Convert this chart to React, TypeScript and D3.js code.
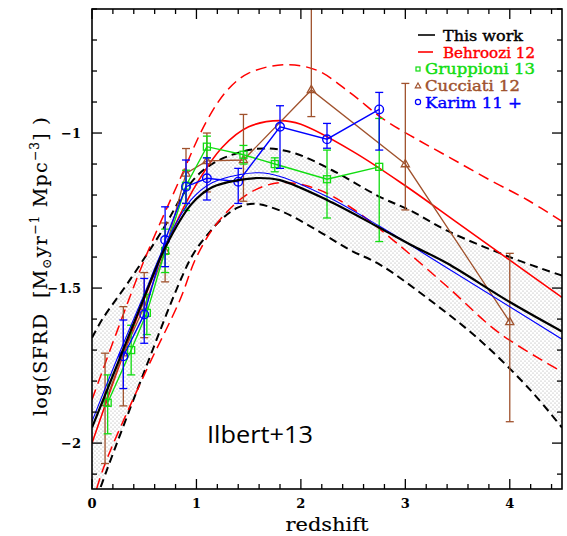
import React from "react";
import * as d3 from "d3";

// ---------- axis ticks ----------
const xMajorTicks = [0, 1, 2, 3, 4];
const xTickLabels = ["0", "1", "2", "3", "4"];
const yMajorTicks = [-2, -1.5, -1];
const yTickLabels = ["\u22122", "\u22121.5", "\u22121"];

// ---------- This work (black solid) ----------
const thisWorkZ = [0, 0.25, 0.5, 0.7, 0.95, 1.15, 1.4, 1.6, 1.8, 2.25, 2.75, 3.05, 3.4, 4.0, 4.5];
const thisWorkY = [-1.95, -1.74, -1.53, -1.37, -1.23, -1.175, -1.152, -1.145, -1.152, -1.216, -1.305, -1.36, -1.42, -1.545, -1.64];

// band edges (black dashed)
const bandUpZ = [0, 0.1, 0.35, 0.68, 0.85, 1.0, 1.2, 1.5, 1.7, 1.95, 2.3, 2.75, 3.05, 3.4, 4.0, 4.5];
const bandUpY = [-1.66, -1.6, -1.48, -1.31, -1.21, -1.14, -1.09, -1.055, -1.05, -1.066, -1.12, -1.205, -1.25, -1.315, -1.4, -1.46];
const bandLoZ = [0, 0.15, 0.5, 0.84, 0.97, 1.1, 1.25, 1.4, 1.55, 1.8, 2.15, 2.47, 2.76, 3.24, 3.72, 4.2, 4.5];
const bandLoY = [-2.22, -2.08, -1.77, -1.48, -1.39, -1.33, -1.275, -1.24, -1.228, -1.25, -1.313, -1.377, -1.425, -1.54, -1.67, -1.83, -1.95];

// ---------- Behroozi 12 (red) ----------
const behrooziZ = [0, 0.25, 0.5, 0.75, 1.0, 1.25, 1.5, 1.8, 2.0, 2.5, 3.0, 3.5, 4.0, 4.5];
const behrooziY = [-2.0, -1.76, -1.535, -1.33, -1.165, -1.045, -0.98, -0.96, -0.972, -1.06, -1.17, -1.29, -1.41, -1.53];
const behrUpZ = [0, 0.25, 0.5, 0.84, 1.1, 1.3, 1.5, 1.83, 2.15, 2.47, 2.79, 3.11, 3.43, 3.8, 4.17, 4.5];
const behrUpY = [-1.86, -1.63, -1.41, -1.15, -0.96, -0.86, -0.807, -0.78, -0.797, -0.87, -0.955, -1.02, -1.08, -1.15, -1.216, -1.285];
const behrLoZ = [0, 0.11, 0.5, 0.84, 1.0, 1.2, 1.5, 1.8, 2.15, 2.5, 2.9, 3.4, 3.9, 4.5];
const behrLoY = [-2.2, -2.08, -1.78, -1.54, -1.4, -1.29, -1.195, -1.16, -1.18, -1.245, -1.35, -1.495, -1.645, -1.77];

// ---------- Karim 11 (blue) ----------
const karimFitZ = [0, 0.25, 0.5, 0.7, 0.95, 1.15, 1.4, 1.6, 1.8, 2.25, 2.75, 3.4, 4.0, 4.5];
const karimFitY = [-1.93, -1.72, -1.52, -1.36, -1.215, -1.16, -1.135, -1.128, -1.14, -1.205, -1.3, -1.435, -1.56, -1.665];
const karimZ = [0.3, 0.5, 0.7, 0.9, 1.1, 1.4, 1.8, 2.25, 2.75];
const karimY = [-1.72, -1.585, -1.345, -1.173, -1.146, -1.157, -0.98, -1.02, -0.924];
const karimLo = [-1.824, -1.678, -1.431, -1.227, -1.216, -1.227, -1.114, -1.049, -1.055];
const karimHi = [-1.603, -1.469, -1.238, -1.087, -1.08, -1.114, -0.912, -0.969, -0.869];

// ---------- Gruppioni 13 (green) ----------
const gruppZ = [0.15, 0.375, 0.525, 0.7, 0.9, 1.1, 1.45, 1.75, 2.25, 2.75];
const gruppY = [-1.87, -1.7, -1.58, -1.38, -1.17, -1.044, -1.07, -1.1, -1.149, -1.109];
const gruppLo = [-1.97, -1.78, -1.65, -1.45, -1.25, -1.08, -1.1, -1.125, -1.274, -1.35];
const gruppHi = [-1.78, -1.62, -1.52, -1.31, -1.12, -1.01, -1.04, -1.08, -1.055, -0.953];

// ---------- Cucciati 12 (brown) ----------
const cuccZ = [0.125, 0.3, 0.5, 0.7, 0.9, 1.1, 1.45, 2.1, 3.0, 4.0];
const cuccY = [-1.87, -1.71, -1.56, -1.38, -1.13, -1.09, -1.087, -0.861, -1.1, -1.609];
const cuccLo = [-2.066, -1.88, -1.66, -1.48, -1.227, -1.19, -1.22, -0.947, -1.248, -1.931];
const cuccHi = [-1.71, -1.56, -1.45, -1.29, -1.05, -1.0, -0.94, -0.5, -0.84, -1.388];

// ---------- legend ----------
const legendLabels = ["This work", "Behroozi 12", "Gruppioni 13", "Cucciati 12", "Karim 11 +"];

const RED = "#ff0000";
const GREEN = "#11dd11";
const BROWN = "#a0522d";
const BLUE = "#0000ff";
const SERIF = "'DejaVu Serif', serif";

export default function App() {
  const W = 567, H = 536;
  const L = 92, R = 562, T = 9, B = 489;
  const x = d3.scaleLinear().domain([0, 4.5]).range([L, R]);
  const y = d3.scaleLinear().domain([-2.148, -0.6]).range([B, T]);

  const zip = (zs: number[], ys: number[]) => zs.map((z, i) => [z, ys[i]] as [number, number]);
  const smooth = d3.line<[number, number]>().x(d => x(d[0])).y(d => y(d[1])).curve(d3.curveCatmullRom.alpha(0.5));
  const straight = d3.line<[number, number]>().x(d => x(d[0])).y(d => y(d[1]));

  const upPts = zip(bandUpZ, bandUpY);
  const loPts = zip(bandLoZ, bandLoY).reverse();
  const bandPath = (smooth(upPts) || "") + (smooth(loPts) || "").replace(/^M/, "L") + "Z";

  // ticks
  const xMinor = d3.range(0, 46, 2).map(v => v / 10).filter(v => v <= 4.5);
  const yMinor = d3.range(-21, -5, 1).map(v => v / 10);
  const isXMajor = (v: number) => Math.abs(v - Math.round(v)) < 1e-6;
  const isYMajor = (v: number) => Math.abs(v * 2 - Math.round(v * 2)) < 1e-6;

  const errorBars = (zs: number[], lo: number[], hi: number[], color: string) =>
    zs.map((z, i) => (
      <g key={"e" + color + i} stroke={color} strokeWidth={1.3}>
        <line x1={x(z)} x2={x(z)} y1={y(lo[i])} y2={y(hi[i])} />
        <line x1={x(z) - 4} x2={x(z) + 4} y1={y(lo[i])} y2={y(lo[i])} />
        <line x1={x(z) - 4} x2={x(z) + 4} y1={y(hi[i])} y2={y(hi[i])} />
      </g>
    ));

  const tri = (cx: number, cy: number, s: number) =>
    `M${cx},${cy - s}L${cx + s * 0.9},${cy + s * 0.6}L${cx - s * 0.9},${cy + s * 0.6}Z`;

  const legY = [35, 52, 69, 86, 102];
  const legBase = [40.5, 57.5, 74, 91, 108];
  const legText = (i: number, x0: number, len: number, color: string) => (
    <text x={x0} y={legBase[i]} fill={color} stroke={color} strokeWidth={0.4} fontFamily={SERIF} fontSize={14.5}
      textLength={len} lengthAdjust="spacingAndGlyphs">{legendLabels[i]}</text>
  );

  return (
    <svg width={W} height={H} style={{ position: "absolute", left: 0, top: 0, background: "#fff" }}>
      <defs>
        <clipPath id="plotClip">
          <rect x={L} y={T} width={R - L} height={B - T} />
        </clipPath>
        <pattern id="dots" width={4} height={4} patternUnits="userSpaceOnUse">
          <circle cx={1} cy={1} r={0.5} fill="#8a8a8a" />
          <circle cx={3} cy={3} r={0.5} fill="#8a8a8a" />
        </pattern>
      </defs>
      <rect width={W} height={H} fill="#fff" />

      <g clipPath="url(#plotClip)">
        <path d={bandPath} fill="url(#dots)" stroke="none" />
        <path d={smooth(zip(bandUpZ, bandUpY)) || ""} fill="none" stroke="#000" strokeWidth={2} strokeDasharray="8 5" />
        <path d={smooth(zip(bandLoZ, bandLoY)) || ""} fill="none" stroke="#000" strokeWidth={2} strokeDasharray="8 5" />

        <path d={smooth(zip(behrUpZ, behrUpY)) || ""} fill="none" stroke={RED} strokeWidth={1.5} strokeDasharray="11 6" />
        <path d={smooth(zip(behrLoZ, behrLoY)) || ""} fill="none" stroke={RED} strokeWidth={1.5} strokeDasharray="11 6" />
        <path d={smooth(zip(behrooziZ, behrooziY)) || ""} fill="none" stroke={RED} strokeWidth={1.6} />

        {/* Cucciati */}
        <path d={straight(zip(cuccZ, cuccY)) || ""} fill="none" stroke={BROWN} strokeWidth={1.3} />
        {errorBars(cuccZ, cuccLo, cuccHi, BROWN)}
        {cuccZ.map((z, i) => (
          <path key={"ct" + i} d={tri(x(z), y(cuccY[i]), 4.5)} fill="none" stroke={BROWN} strokeWidth={1.3} />
        ))}

        {/* Gruppioni */}
        <path d={straight(zip(gruppZ, gruppY)) || ""} fill="none" stroke={GREEN} strokeWidth={1.4} />
        {errorBars(gruppZ, gruppLo, gruppHi, GREEN)}
        {gruppZ.map((z, i) => (
          <rect key={"gs" + i} x={x(z) - 3.5} y={y(gruppY[i]) - 3.5} width={7} height={7} fill="none" stroke={GREEN} strokeWidth={1.3} />
        ))}

        {/* Karim */}
        <path d={smooth(zip(karimFitZ, karimFitY)) || ""} fill="none" stroke={BLUE} strokeWidth={1.1} />
        <path d={straight(zip(karimZ, karimY)) || ""} fill="none" stroke={BLUE} strokeWidth={1.4} />
        {errorBars(karimZ, karimLo, karimHi, BLUE)}
        {karimZ.map((z, i) => (
          <circle key={"kc" + i} cx={x(z)} cy={y(karimY[i])} r={4.3} fill="none" stroke={BLUE} strokeWidth={1.4} />
        ))}

        <path d={smooth(zip(thisWorkZ, thisWorkY)) || ""} fill="none" stroke="#000" strokeWidth={2.2} />
      </g>

      {/* frame */}
      <rect x={L} y={T} width={R - L} height={B - T} fill="none" stroke="#000" strokeWidth={1.6} />
      {xMinor.map((v, i) => {
        const len = isXMajor(v) ? 10 : 5;
        return (
          <g key={"xt" + i} stroke="#000" strokeWidth={1.3}>
            <line x1={x(v)} x2={x(v)} y1={B} y2={B - len} />
            <line x1={x(v)} x2={x(v)} y1={T} y2={T + len} />
          </g>
        );
      })}
      {yMinor.map((v, i) => {
        const len = isYMajor(v) ? 10 : 5;
        return (
          <g key={"yt" + i} stroke="#000" strokeWidth={1.3}>
            <line x1={L} x2={L + len} y1={y(v)} y2={y(v)} />
            <line x1={R} x2={R - len} y1={y(v)} y2={y(v)} />
          </g>
        );
      })}
      {xMajorTicks.map((v, i) => (
        <text key={"xl" + i} x={x(v)} y={508} textAnchor="middle" fontFamily={SERIF} fontWeight="bold" fontSize={13}>
          {xTickLabels[i]}
        </text>
      ))}
      {yMajorTicks.map((v, i) => (
        <text key={"yl" + i} x={81} y={y(v) + 5} textAnchor="end" fontFamily={SERIF} fontWeight="bold" fontSize={13}>
          {yTickLabels[i]}
        </text>
      ))}

      <text x={327} y={531} textAnchor="middle" fontFamily={SERIF} fontSize={18} stroke="#000" strokeWidth={0.15}
        textLength={83} lengthAdjust="spacingAndGlyphs">
        redshift
      </text>

      <text transform="translate(47,266) rotate(-90)" textAnchor="middle" fontFamily={SERIF} fontSize={19}
        stroke="#000" strokeWidth={0.15} letterSpacing={1.3}>
        log(SFRD{"\u00a0\u00a0"}[M
        <tspan fontSize={12} dy={4}>{"\u2299"}</tspan>
        <tspan dy={-4}>yr</tspan>
        <tspan fontSize={12} dy={-8}>{"\u22121"}</tspan>
        <tspan dy={8}>{"\u00a0Mpc"}</tspan>
        <tspan fontSize={12} dy={-8}>{"\u22123"}</tspan>
        <tspan dy={8}>{"]\u00a0)"}</tspan>
      </text>

      <text x={207} y={443} fontFamily="'Open Sans', sans-serif" fontSize={24} textLength={106} lengthAdjust="spacingAndGlyphs">
        Ilbert+13
      </text>

      {/* legend */}
      <line x1={418} x2={435} y1={legY[0]} y2={legY[0]} stroke="#000" strokeWidth={1.6} />
      {legText(0, 443, 80, "#000")}
      <line x1={418} x2={433} y1={legY[1]} y2={legY[1]} stroke={RED} strokeWidth={1.6} />
      {legText(1, 443, 92, RED)}
      <rect x={416} y={legY[2] - 2} width={4} height={4} fill="none" stroke={GREEN} strokeWidth={1.2} />
      {legText(2, 425, 110, GREEN)}
      <path d={tri(418, legY[3], 3)} fill="none" stroke={BROWN} strokeWidth={1.2} />
      {legText(3, 425, 95, BROWN)}
      <circle cx={418} cy={legY[4]} r={2.6} fill="none" stroke={BLUE} strokeWidth={1.2} />
      {legText(4, 425, 97, BLUE)}
    </svg>
  );
}
